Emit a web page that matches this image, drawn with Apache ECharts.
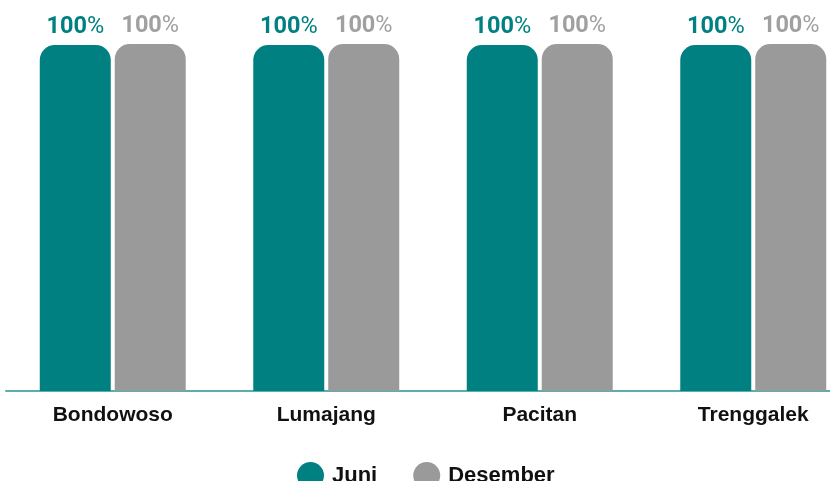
<!DOCTYPE html>
<html>
<head>
<meta charset="utf-8">
<script src="https://cdn.jsdelivr.net/npm/echarts@6/dist/echarts.min.js"></script>
<style>html,body{margin:0;padding:0;background:#fff}#c{width:830px;height:481px}</style>
</head>
<body>
<div id="c"></div>
<script>
const categories = ["Bondowoso", "Lumajang", "Pacitan", "Trenggalek"];
const juni = [99.7, 99.7, 99.7, 99.7];
const desember = [100, 100, 100, 100];
const seriesNames = ["Juni", "Desember"];

const chart = echarts.init(document.getElementById('c'), null, {renderer: 'canvas'});
function lbl(color) {
  return {
    show: true,
    position: 'top',
    distance: 6,
    formatter: p => '{a|' + Math.round(p.value) + '}{b|%}',
    rich: {
      a: {fontFamily: 'Roboto', fontWeight: 'bold', fontSize: 23.5, color: color},
      b: {fontFamily: 'Roboto', fontWeight: 'normal', fontSize: 23.5, color: color}
    }
  };
}
chart.setOption({
  animation: false,
  grid: {left: 6, width: 854, top: 44, bottom: 90, containLabel: false, outerBoundsMode: 'none'},
  xAxis: {
    type: 'category',
    data: categories,
    axisLine: {lineStyle: {color: '#5aaeb0', width: 2}},
    axisTick: {show: false},
    axisLabel: {fontFamily: 'Liberation Sans', fontWeight: 'bold', fontSize: 21, color: '#111', margin: 14}
  },
  yAxis: {type: 'value', min: 0, max: 100, show: false, splitLine: {show: false}},
  legend: {
    top: 457, left: 292,
    icon: 'circle', itemWidth: 27, itemHeight: 27, itemGap: 36,
    textStyle: {fontFamily: 'Liberation Sans', fontWeight: 'bold', fontSize: 22, color: '#111', padding: [0, 0, 0, 3]},
    data: seriesNames
  },
  series: [
    {name: seriesNames[0], type: 'bar', data: juni, barWidth: 71, barGap: '5.6%',
     itemStyle: {color: '#008080', borderRadius: [15, 15, 0, 0]}, label: lbl('#008080')},
    {name: seriesNames[1], type: 'bar', data: desember, barWidth: 71,
     itemStyle: {color: '#9a9a9a', borderRadius: [15, 15, 0, 0]}, label: lbl('#a0a0a0')}
  ]
});
</script>
</body>
</html>
